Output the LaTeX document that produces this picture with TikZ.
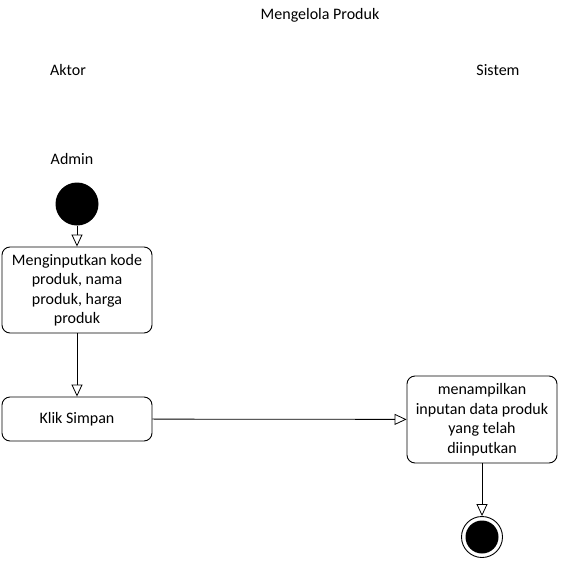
\documentclass[tikz,border=0pt]{standalone}
\usepackage{fontspec}
\setmainfont{Carlito}
\usetikzlibrary{arrows.meta}
\begin{document}
\begin{tikzpicture}[x=1pt,y=-1pt,
  every node/.style={font=\fontsize{16}{19.5}\selectfont},
  act/.style={draw,rounded corners=8pt,line width=0.9pt,minimum width=150pt,align=center,inner sep=0pt},
  flow/.style={draw,line width=0.8pt,-{Triangle[open,length=12pt,width=11pt]}},
  lbl/.style={inner sep=0pt}]
\useasboundingbox (0,0) rectangle (561,563);
\node[lbl] (title) at (320,15) {Mengelola Produk};
\node[lbl] (aktor) at (68,70) {Aktor};
\node[lbl] (sistem) at (498,70) {Sistem};
\node[lbl] (admin) at (72,159) {Admin};
\node[circle,fill=black,minimum size=43pt,inner sep=0pt] (start) at (77,204) {};
\node[act,minimum height=86pt] (input) at (77,290) {Menginputkan kode\\produk, nama\\produk, harga\\produk};
\node[act,minimum height=44pt] (simpan) at (77,419) {Klik Simpan};
\node[act,minimum height=87pt] (tampil) at (482,419.5) {menampilkan\\inputan data produk\\yang telah\\diinputkan};
\node[circle,draw,line width=0.9pt,minimum size=41pt,inner sep=0pt] (end) at (482,537) {};
\node[circle,fill=black,minimum size=33pt,inner sep=0pt] (endin) at (end) {};
\draw[flow] (start) -- (input);
\draw[flow] (input) -- (simpan);
\draw[flow] (simpan) -- (tampil);
\draw[flow] (tampil) -- (end);
\end{tikzpicture}
\end{document}
